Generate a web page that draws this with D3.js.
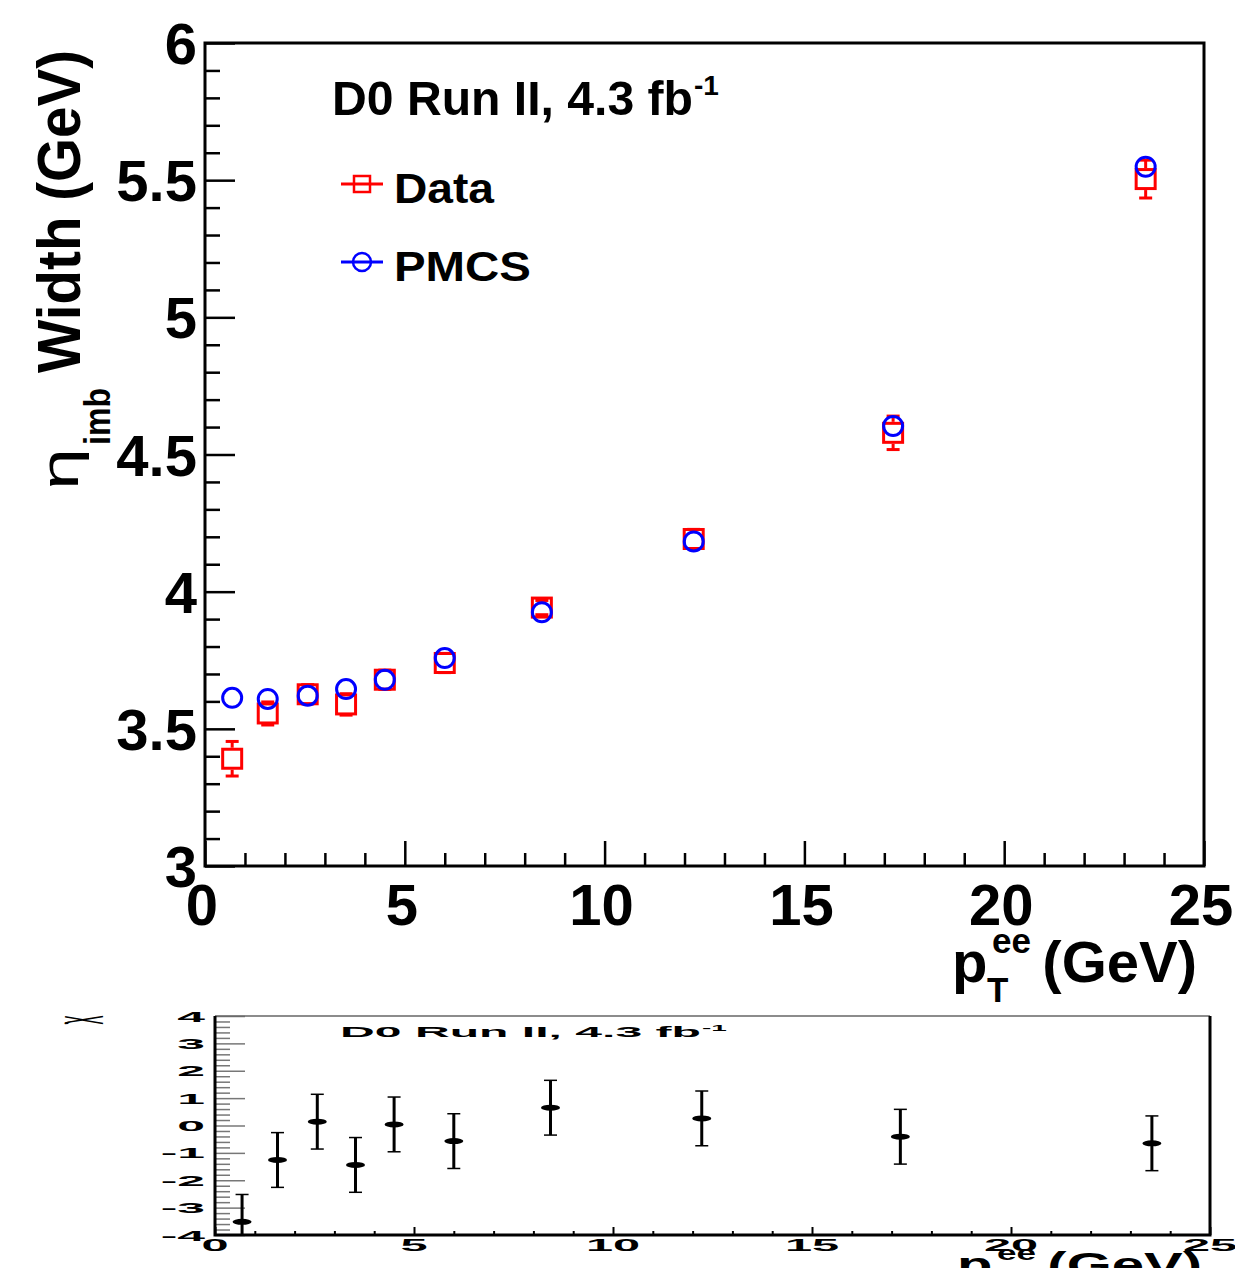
<!DOCTYPE html>
<html><head><meta charset="utf-8">
<script src="https://cdn.jsdelivr.net/npm/d3@7"></script>
<style>
body{margin:0;background:#fff;}
svg{display:block;font-family:"Liberation Sans",Arial,Helvetica,sans-serif;font-weight:bold;}
</style></head><body>
<svg id="c" width="1235" height="1268"></svg>
<script>
// pT(ee) bin centres (GeV)
const ptBins    = [0.68, 1.57, 2.57, 3.53, 4.50, 6.00, 8.43, 12.23, 17.22, 23.54];
// eta_imb width in data and in PMCS (GeV)
const dataWidth = [3.391, 3.556, 3.626, 3.589, 3.679, 3.740, 3.942, 4.192, 4.579, 5.504];
const dataErr   = [0.063, 0.042, 0.035, 0.039, 0.035, 0.035, 0.026, 0.035, 0.061, 0.069];
const pmcsWidth = [3.613, 3.609, 3.621, 3.645, 3.679, 3.758, 3.925, 4.183, 4.604, 5.549];
// pulls between data and PMCS
const chiValues = [-3.52, -1.26, 0.14, -1.44, 0.04, -0.57, 0.65, 0.26, -0.41, -0.65];
const chiErr    = [1, 1, 1, 1, 1, 1, 1, 1, 1, 1];

const widthTicks      = [3, 3.5, 4, 4.5, 5, 5.5, 6];
const widthTickLabels = ["3", "3.5", "4", "4.5", "5", "5.5", "6"];
const ptTicks         = [0, 5, 10, 15, 20, 25];
const ptTickLabels    = ["0", "5", "10", "15", "20", "25"];
const chiTicks        = [-4, -3, -2, -1, 0, 1, 2, 3, 4];
const chiTickLabels   = ["-4", "-3", "-2", "-1", "0", "1", "2", "3", "4"];

const svg = d3.select("#c");
const RED = "#ff0000", BLUE = "#0000ff";

// ---------- upper pad ----------
const xTop = d3.scaleLinear().domain([0, 25]).range([205, 1204]);
const yTop = d3.scaleLinear().domain([3, 6]).range([866, 43]);

svg.append("clipPath").attr("id", "topPad")
  .append("rect").attr("x", 0).attr("y", 0).attr("width", 1235).attr("height", 1002);
const upper = svg.append("g").attr("clip-path", "url(#topPad)");

function styleAxis(g, color, w) {
  g.select(".domain").remove();
  g.selectAll(".tick line").attr("stroke", color).attr("stroke-width", w);
}

// y ticks (inward)
const yMinor = d3.range(30, 61).map(d => d / 10).filter(v => !widthTicks.includes(v));
upper.append("g").attr("transform", "translate(205,0)")
  .call(d3.axisRight(yTop).tickValues(yMinor).tickSize(15).tickFormat(""))
  .call(g => styleAxis(g, "#000", 2.5));
upper.append("g").attr("transform", "translate(205,0)")
  .call(d3.axisRight(yTop).tickValues(widthTicks).tickSize(30).tickFormat(""))
  .call(g => styleAxis(g, "#000", 2.5));

// x ticks (inward)
const xMinor = d3.range(0, 26).filter(v => !ptTicks.includes(v));
upper.append("g").attr("transform", "translate(0,866)")
  .call(d3.axisTop(xTop).tickValues(xMinor).tickSize(13).tickFormat(""))
  .call(g => styleAxis(g, "#000", 2.5));
upper.append("g").attr("transform", "translate(0,866)")
  .call(d3.axisTop(xTop).tickValues(ptTicks).tickSize(25).tickFormat(""))
  .call(g => styleAxis(g, "#000", 2.5));

// frame
upper.append("rect")
  .attr("x", xTop(0)).attr("y", yTop(6))
  .attr("width", xTop(25) - xTop(0)).attr("height", yTop(3) - yTop(6))
  .attr("fill", "none").attr("stroke", "#000").attr("stroke-width", 3);

// tick labels
upper.selectAll(".ylab").data(widthTicks).join("text")
  .attr("x", 197).attr("y", d => yTop(d) + 21)
  .attr("text-anchor", "end").attr("font-size", 58)
  .text((d, i) => widthTickLabels[i]);
upper.selectAll(".xlab").data(ptTicks).join("text")
  .attr("x", d => xTop(d) - 3).attr("y", 925)
  .attr("text-anchor", "middle").attr("font-size", 58)
  .text((d, i) => ptTickLabels[i]);

// y title: eta_imb Width (GeV)
const yTitle = upper.append("g").attr("transform", "translate(80,0) rotate(-90)");
yTitle.append("text").attr("x", -50).attr("y", 0).attr("text-anchor", "end")
  .attr("font-size", 62).attr("textLength", 323).attr("lengthAdjust", "spacingAndGlyphs")
  .text("Width (GeV)");
yTitle.append("text").attr("x", -388).attr("y", 30).attr("text-anchor", "end")
  .attr("font-size", 36).attr("textLength", 57).attr("lengthAdjust", "spacingAndGlyphs")
  .text("imb");
yTitle.append("text").attr("x", -490).attr("y", -2)
  .attr("font-size", 54).attr("font-weight", "normal")
  .attr("textLength", 42).attr("lengthAdjust", "spacingAndGlyphs")
  .text("η");

// x title: pT^ee (GeV)
function ptTitle(g) {
  g.append("text").attr("x", 952).attr("y", 982).attr("font-size", 58).text("p");
  g.append("text").attr("x", 992).attr("y", 953).attr("font-size", 35).text("ee");
  g.append("text").attr("x", 987).attr("y", 1002).attr("font-size", 35).text("T");
  g.append("text").attr("x", 1197).attr("y", 982).attr("text-anchor", "end")
    .attr("font-size", 58).text("(GeV)");
}
ptTitle(upper.append("g"));

// luminosity label
function lumi(g) {
  g.append("text").attr("x", 0).attr("y", 0).attr("font-size", 48)
    .attr("textLength", 361).attr("lengthAdjust", "spacingAndGlyphs")
    .text("D0 Run II, 4.3 fb");
  g.append("text").attr("x", 362).attr("y", -20).attr("font-size", 28).text("-1");
}
lumi(upper.append("g").attr("transform", "translate(332,115)"));

// legend
const leg = upper.append("g");
leg.append("line").attr("x1", 341).attr("x2", 383).attr("y1", 184).attr("y2", 184)
  .attr("stroke", RED).attr("stroke-width", 3);
leg.append("rect").attr("x", 354).attr("y", 176).attr("width", 16).attr("height", 16)
  .attr("fill", "#fff").attr("stroke", RED).attr("stroke-width", 2.5);
leg.append("line").attr("x1", 354).attr("x2", 370).attr("y1", 184).attr("y2", 184)
  .attr("stroke", RED).attr("stroke-width", 3);
leg.append("line").attr("x1", 341).attr("x2", 383).attr("y1", 262).attr("y2", 262)
  .attr("stroke", BLUE).attr("stroke-width", 3);
leg.append("circle").attr("cx", 362).attr("cy", 262).attr("r", 9)
  .attr("fill", "none").attr("stroke", BLUE).attr("stroke-width", 2.5);
leg.append("text").attr("x", 394).attr("y", 203).attr("font-size", 42)
  .attr("textLength", 100).attr("lengthAdjust", "spacingAndGlyphs").text("Data");
leg.append("text").attr("x", 394).attr("y", 281).attr("font-size", 42)
  .attr("textLength", 137).attr("lengthAdjust", "spacingAndGlyphs").text("PMCS");

// data error bars (drawn outside the marker)
const half = 11, cap = 6.5;
const eb = upper.append("g").attr("stroke", RED).attr("stroke-width", 3);
ptBins.forEach((x, i) => {
  const cx = xTop(x), cy = yTop(dataWidth[i]);
  const yu = yTop(dataWidth[i] + dataErr[i]), yd = yTop(dataWidth[i] - dataErr[i]);
  if (cy - yu > half) eb.append("line").attr("x1", cx).attr("x2", cx).attr("y1", cy - half).attr("y2", yu);
  if (yd - cy > half) eb.append("line").attr("x1", cx).attr("x2", cx).attr("y1", cy + half).attr("y2", yd);
  eb.append("line").attr("x1", cx - cap).attr("x2", cx + cap).attr("y1", yu).attr("y2", yu);
  eb.append("line").attr("x1", cx - cap).attr("x2", cx + cap).attr("y1", yd).attr("y2", yd);
});
upper.selectAll(".sq").data(ptBins).join("rect")
  .attr("x", d => xTop(d) - 9.5).attr("y", (d, i) => yTop(dataWidth[i]) - 9.5)
  .attr("width", 19).attr("height", 19)
  .attr("fill", "none").attr("stroke", RED).attr("stroke-width", 3);
upper.selectAll(".ci").data(ptBins).join("circle")
  .attr("cx", d => xTop(d)).attr("cy", (d, i) => yTop(pmcsWidth[i]))
  .attr("r", 9.5).attr("fill", "none").attr("stroke", BLUE).attr("stroke-width", 3);

// ---------- lower pad (pulls) ----------
const xBot = d3.scaleLinear().domain([0, 25]).range([215, 1210]);
const yBot = d3.scaleLinear().domain([-4, 4]).range([1235, 1016]);
const lower = svg.append("g");

svg.append("clipPath").attr("id", "botFrame")
  .append("rect").attr("x", xBot(0)).attr("y", yBot(4))
  .attr("width", xBot(25) - xBot(0)).attr("height", yBot(-4) - yBot(4));

const cMinor = d3.range(-20, 21).map(d => d / 5).filter(v => !chiTicks.includes(v));
lower.append("g").attr("transform", "translate(215,0)")
  .call(d3.axisRight(yBot).tickValues(cMinor).tickSize(15).tickFormat(""))
  .call(g => styleAxis(g, "#777", 1.5));
lower.append("g").attr("transform", "translate(215,0)")
  .call(d3.axisRight(yBot).tickValues(chiTicks).tickSize(30).tickFormat(""))
  .call(g => styleAxis(g, "#777", 1.5));
lower.append("g").attr("transform", "translate(0,1235)")
  .call(d3.axisTop(xBot).tickValues(xMinor).tickSize(4).tickFormat(""))
  .call(g => styleAxis(g, "#000", 2));
lower.append("g").attr("transform", "translate(0,1235)")
  .call(d3.axisTop(xBot).tickValues(ptTicks).tickSize(8).tickFormat(""))
  .call(g => styleAxis(g, "#000", 2));

// frame: thin top, heavy left / right / bottom
lower.append("line").attr("x1", xBot(0)).attr("x2", xBot(25)).attr("y1", yBot(4)).attr("y2", yBot(4))
  .attr("stroke", "#666").attr("stroke-width", 1.5);
lower.append("path")
  .attr("d", `M${xBot(0)},${yBot(4)}V${yBot(-4)}H${xBot(25)}V${yBot(4)}`)
  .attr("fill", "none").attr("stroke", "#000").attr("stroke-width", 3);

// squashed tick labels
lower.selectAll(".cy").data(chiTicks).join("text")
  .attr("transform", d => `translate(205,${yBot(d) + 5.5}) scale(0.86,0.26)`)
  .attr("text-anchor", "end").attr("font-size", 58)
  .text((d, i) => chiTickLabels[i]);
lower.selectAll(".cx").data(ptTicks).join("text")
  .attr("transform", d => `translate(${xBot(d)},1251) scale(0.84,0.28)`)
  .attr("text-anchor", "middle").attr("font-size", 58)
  .text((d, i) => ptTickLabels[i]);

// chi y title
lower.append("text").attr("transform", "translate(92,1020) scale(1,0.33) rotate(-90)")
  .attr("text-anchor", "middle").attr("font-size", 52).attr("font-weight", "normal")
  .text("χ");

ptTitle(lower.append("g").attr("transform", "translate(5,688) scale(1,0.6)"));
lumi(lower.append("g").attr("transform", "translate(340,1037) scale(1,0.3)"));

// pull points
const pg = lower.append("g").attr("clip-path", "url(#botFrame)");
ptBins.forEach((x, i) => {
  const cx = xBot(x);
  const yu = yBot(chiValues[i] + chiErr[i]), yd = yBot(chiValues[i] - chiErr[i]);
  pg.append("line").attr("x1", cx).attr("x2", cx).attr("y1", yu).attr("y2", yd)
    .attr("stroke", "#000").attr("stroke-width", 3);
  [yu, yd].forEach(y => pg.append("line").attr("x1", cx - 6.5).attr("x2", cx + 6.5)
    .attr("y1", y).attr("y2", y).attr("stroke", "#000").attr("stroke-width", 1.5));
});
pg.selectAll(".pt").data(ptBins).join("ellipse")
  .attr("cx", d => xBot(d)).attr("cy", (d, i) => yBot(chiValues[i]))
  .attr("rx", 9.5).attr("ry", 3).attr("fill", "#000");
</script>
</body></html>
